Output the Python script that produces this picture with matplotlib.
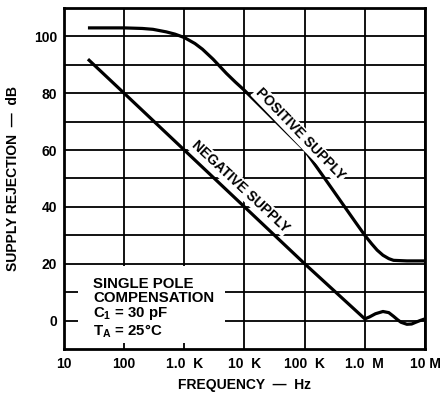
import matplotlib
matplotlib.use("Agg")
import matplotlib.pyplot as plt
from matplotlib.patches import Rectangle

plt.rcParams['font.family'] = ['Liberation Sans', 'DejaVu Sans']
plt.rcParams['font.weight'] = 'bold'
plt.rcParams['mathtext.fontset'] = 'custom'
plt.rcParams['mathtext.rm'] = 'Liberation Sans:bold'
plt.rcParams['mathtext.bf'] = 'Liberation Sans:bold'
plt.rcParams['mathtext.default'] = 'bf'

# values (frequency in Hz, rejection in dB)
pos_freq = [25, 50, 100, 200, 300, 500, 700, 1e3, 1.5e3, 2e3, 3e3, 5e3, 7e3,
            1e4, 2e4, 5e4, 1e5, 2e5, 3e5, 5e5, 7e5, 1e6, 1.3e6, 1.6e6, 2e6,
            2.5e6, 3e6, 5e6, 1e7]
pos_db = [103, 103, 103, 102.8, 102.5, 101.6, 100.8, 99.6, 97.5, 95.5, 92,
          87, 84, 81, 74.7, 66.3, 60, 51, 45.7, 39, 34.6, 30, 27, 24.8, 23,
          21.8, 21.2, 21, 21]

neg_freq = [25, 100, 1e3, 1e4, 1e5, 1e6, 1.2e6, 1.5e6, 2e6, 2.5e6, 3e6,
            3.5e6, 4e6, 5e6, 6e6, 7e6, 8.5e6, 1e7]
neg_db = [92, 80, 60, 40, 20, 0.6, 1.3, 2.4, 3.2, 2.8, 1.5, 0.3, -0.6,
          -1.3, -1.2, -0.6, 0.1, 0.6]

x_ticks = [10, 100, 1e3, 1e4, 1e5, 1e6, 1e7]
x_labels = ['10', '100', '1.0  K', '10  K', '100  K', '1.0  M', '10 M']
y_ticks = list(range(0, 101, 10))
y_labels = [str(v) if v % 20 == 0 else '' for v in y_ticks]

fig = plt.figure(figsize=(4.41, 4.01), dpi=100)
ax = fig.add_axes([64 / 441, 1 - 349 / 401, (425 - 64) / 441, (349 - 8) / 401])

ax.set_xscale('log')
ax.set_xlim(10, 1e7)
ax.set_ylim(-10, 110)
ax.set_xticks(x_ticks)
ax.set_xticklabels(x_labels)
ax.set_yticks(y_ticks)
ax.set_yticklabels(y_labels)
ax.minorticks_off()
ax.tick_params(length=0, labelsize=10, pad=5)
for lab in ax.get_xticklabels() + ax.get_yticklabels():
    lab.set_fontweight('bold')
ax.tick_params(axis='x', pad=6)
ax.grid(True, color='black', lw=1.3)
for s in ax.spines.values():
    s.set_linewidth(2)

ax.plot(pos_freq, pos_db, color='black', lw=2.3, zorder=3, solid_capstyle='butt')
ax.plot(neg_freq, neg_db, color='black', lw=2.3, zorder=3, solid_capstyle='butt')

# mask behind the note box
ax.add_patch(Rectangle((0.039, 0.018), 0.407, 0.225, transform=ax.transAxes,
                       facecolor='white', edgecolor='none', zorder=2))
ax.text(0.08, 0.21, 'SINGLE POLE\nCOMPENSATION\nC$_1$ = 30 pF\nT$_A$ = 25°C',
        transform=ax.transAxes, ha='left', va='top', fontsize=10.8,
        fontweight='bold', linespacing=1.0, zorder=4)

box = dict(facecolor='white', edgecolor='none', pad=1)
ax.text(8.3e4, 65.5, 'POSITIVE SUPPLY', rotation=-46, rotation_mode='anchor',
        ha='center', va='center', fontsize=10, fontweight='bold', bbox=box, zorder=4)
ax.text(8.4e3, 47.2, 'NEGATIVE SUPPLY', rotation=-43, rotation_mode='anchor',
        ha='center', va='center', fontsize=10, fontweight='bold', bbox=box, zorder=4)

ax.set_xlabel('FREQUENCY  —  Hz', fontsize=10, fontweight='bold', labelpad=5)
ax.set_ylabel('SUPPLY REJECTION  —  dB', fontsize=10, fontweight='bold', labelpad=10)

fig.savefig('out.png', dpi=100)
